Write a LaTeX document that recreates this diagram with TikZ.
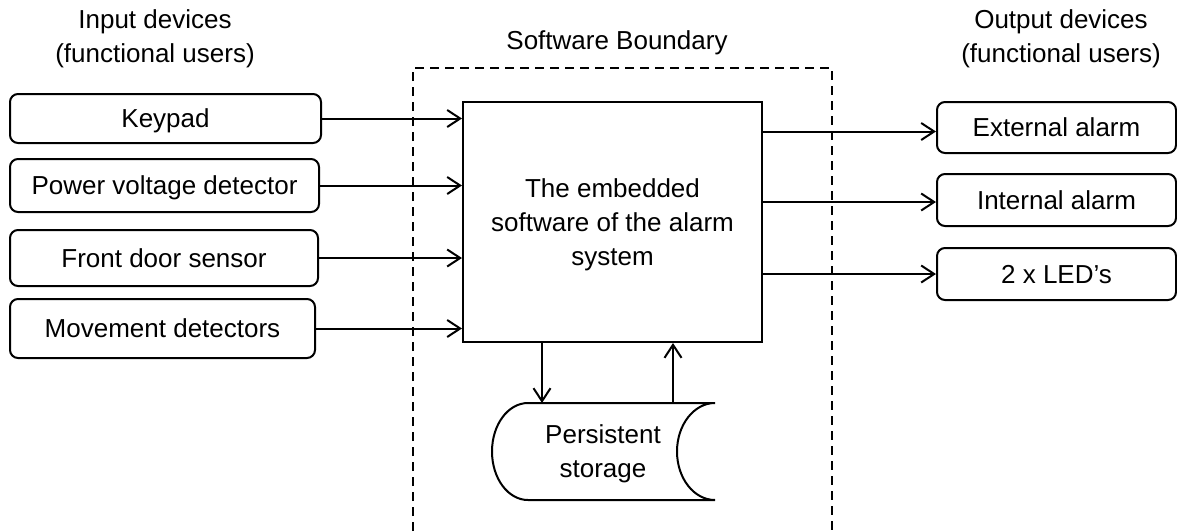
\documentclass[tikz,border=0pt]{standalone}
\usepackage{fontspec}
\setmainfont{Liberation Sans}
\usetikzlibrary{arrows.meta}
\begin{document}
\begin{tikzpicture}[x=1pt,y=-1pt,
  font=\fontsize{26}{34}\selectfont,
  line width=2pt,
  devbox/.style={draw,rounded corners=8pt,inner sep=0pt,text depth=0pt},
  arr/.style={-{Straight Barb[length=13pt,width=17pt,line width=2pt]}},
  plain/.style={inner sep=0pt,align=center}]
\useasboundingbox (0,0) rectangle (1177,531);

% headings
\node[plain] (inhead) at (155,39) {Input devices\\(functional users)};
\node[plain] (outhead) at (1061,39) {Output devices\\(functional users)};
\node[plain] (swhead) at (617,43) {Software Boundary};

% software boundary (open at the bottom)
\draw[dash pattern=on 9pt off 6pt] (413,531) -- (413,68) -- (832,68) -- (832,531);

% the embedded software
\node[draw,minimum width=299pt,minimum height=240pt,inner sep=0pt,align=center]
  (main) at (612.5,222) {};
\node[plain] (maintext) at (612.5,225) {The embedded\\software of the alarm\\system};

% input devices
\node[devbox,minimum width=311pt,minimum height=49pt] (kp) at (165.5,118.5) {Keypad};
\node[devbox,minimum width=309pt,minimum height=53pt] (pv) at (164.5,185.5) {Power voltage detector};
\node[devbox,minimum width=308pt,minimum height=56pt] (fd) at (164,258) {Front door sensor};
\node[devbox,minimum width=305pt,minimum height=59pt] (mv) at (162.5,328.5) {Movement detectors};

% output devices
\node[devbox,minimum width=239pt,minimum height=51pt] (ext) at (1056.5,127.5) {External alarm};
\node[devbox,minimum width=239pt,minimum height=52pt] (int) at (1056.5,200) {Internal alarm};
\node[devbox,minimum width=239pt,minimum height=52pt] (led) at (1056.5,274) {2 x LED’s};

% input flows
\foreach \n in {kp,pv,fd,mv}
  \draw[arr] (\n.east) -- (\n.east -| main.west);

% output flows
\draw[arr] ([yshift=-4pt]ext.west -| main.east) -- ([yshift=-4pt]ext.west);
\draw[arr] ([yshift=-2pt]int.west -| main.east) -- ([yshift=-2pt]int.west);
\draw[arr] (led.west -| main.east) -- (led.west);

% persistent storage
\draw (715,403) -- (528,403)
  .. controls (508,403) and (492,424.7) .. (492,451.5)
  .. controls (492,478.3) and (508,500) .. (528,500) -- (715,500)
  .. controls (694,500) and (677,478.3) .. (677,451.5)
  .. controls (677,424.7) and (694,403) .. (715,403);
\node[plain] (st) at (603,454) {Persistent\\storage};
\coordinate (stin) at (542,403);
\coordinate (stout) at (673,403);
\draw[arr] (stin |- main.south) -- (stin);
\draw[arr] (stout) -- (stout |- main.south);
\end{tikzpicture}
\end{document}
